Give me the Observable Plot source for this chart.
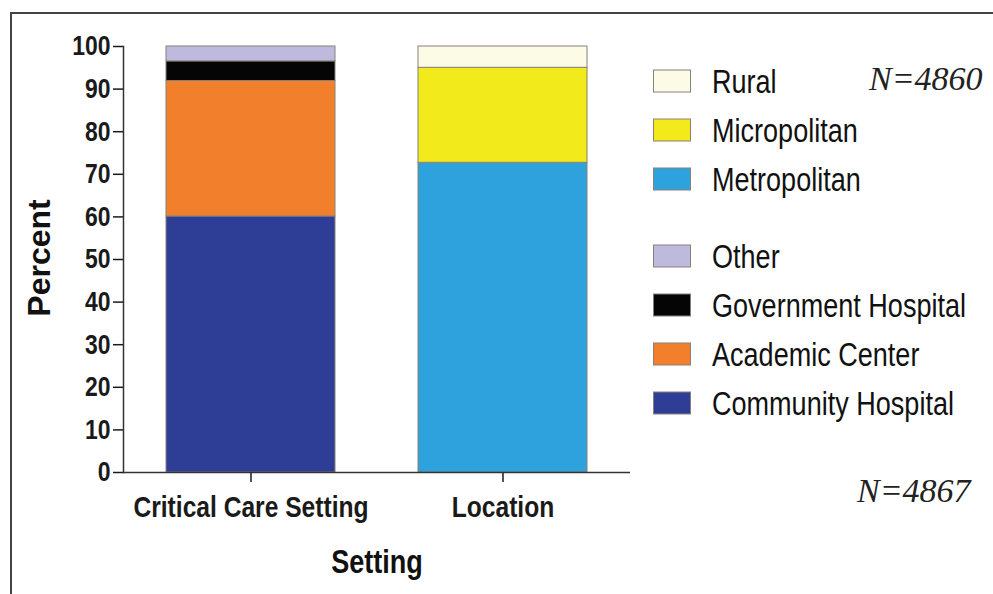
<!DOCTYPE html>
<html><head><meta charset="utf-8">
<script src="https://cdn.jsdelivr.net/npm/d3@7"></script>
<script src="https://cdn.jsdelivr.net/npm/@observablehq/plot@0.6"></script>
<style>
body{margin:0;background:#fff;}
#wrap{position:relative;width:993px;height:594px;overflow:hidden;background:#fff}
#border{position:absolute;left:10px;top:12px;width:1000px;height:600px;border-top:2px solid #444;border-left:2px solid #444;box-sizing:border-box}
#wrap svg{position:absolute;left:0;top:0}
</style></head>
<body><div id="wrap"><div id="border"></div></div>
<script>
const settings = ["Critical Care Setting", "Location"];
const careCategories = ["Community Hospital", "Academic Center", "Government Hospital", "Other"];
const careValues = [60.1, 31.8, 4.6, 3.5];
const careColors = ["#2e3d96", "#f17f2b", "#050505", "#bdbadd"];
const locationCategories = ["Metropolitan", "Micropolitan", "Rural"];
const locationValues = [72.7, 22.3, 5.0];
const locationColors = ["#2ea2dc", "#f2ea1a", "#fcfbe6"];
const yTicks = [0, 10, 20, 30, 40, 50, 60, 70, 80, 90, 100];
const nLocation = "N=4860";
const nCare = "N=4867";

const data = [
  ...careCategories.map((c, i) => ({setting: settings[0], category: c, value: careValues[i]})),
  ...locationCategories.map((c, i) => ({setting: settings[1], category: c, value: locationValues[i]}))
];

const sans = "'Liberation Sans', Arial, sans-serif";
const serif = "'Liberation Serif', 'Times New Roman', serif";
const squeeze = 0.82;

const chart = Plot.plot({
  width: 993, height: 594,
  marginLeft: 123, marginRight: 363, marginTop: 46, marginBottom: 122,
  style: {background: "transparent", fontFamily: sans, color: "#1a1a1a", overflow: "visible"},
  x: {domain: settings, paddingInner: 0.33, paddingOuter: 0.17, align: 0.5, label: null},
  y: {domain: [0, 100], label: null},
  color: {domain: [...careCategories, ...locationCategories], range: [...careColors, ...locationColors]},
  marks: [
    Plot.barY(data, {x: "setting", y: "value", fill: "category",
      order: [...careCategories, ...locationCategories], stroke: "#8a8079", strokeWidth: 1}),
    Plot.axisY({ticks: yTicks, tickSize: 10, tickPadding: 3, fontSize: 28, fontWeight: "bold", label: null, strokeWidth: 1.5, className: "narrow"}),
    Plot.axisX({tickSize: 10, tickPadding: 13, fontSize: 30, fontWeight: "bold", label: null, strokeWidth: 1.5, className: "narrow"}),
    Plot.frame({anchor: "left", stroke: "#333", strokeWidth: 1.5}),
    Plot.ruleY([0], {stroke: "#333", strokeWidth: 1.5})
  ]
});

document.getElementById("wrap").appendChild(chart);
const svg = d3.select(chart);

// axis titles
svg.append("text").attr("transform", "translate(50,258) rotate(-90)")
  .attr("text-anchor", "middle").attr("font-family", sans)
  .attr("font-weight", "bold").attr("font-size", 32).attr("fill", "#111").text("Percent");
svg.append("text").attr("transform", `translate(377,573) scale(${squeeze},1)`)
  .attr("text-anchor", "middle").attr("font-family", sans)
  .attr("font-weight", "bold").attr("font-size", 33).attr("fill", "#111").text("Setting");

// legend
const groups = [
  {names: locationCategories.slice().reverse(), colors: locationColors.slice().reverse(), top: 81},
  {names: careCategories.slice().reverse(), colors: careColors.slice().reverse(), top: 256}
];
groups.forEach(g => {
  g.names.forEach((name, i) => {
    const cy = g.top + i * 49;
    svg.append("rect").attr("x", 653.5).attr("y", cy - 11).attr("width", 37).attr("height", 22)
      .attr("fill", g.colors[i]).attr("stroke", "#8a8079").attr("stroke-width", 1);
    svg.append("text").attr("transform", `translate(712,${cy + 12}) scale(${squeeze},1)`)
      .attr("text-anchor", "start")
      .attr("font-family", sans).attr("font-size", 33).attr("fill", "#111").text(name);
  });
});

// N annotations
svg.append("text").attr("x", 869).attr("y", 90).attr("text-anchor", "start").attr("font-family", serif)
  .attr("font-style", "italic").attr("font-size", 34).attr("fill", "#222").text(nLocation);
svg.append("text").attr("x", 857).attr("y", 502).attr("text-anchor", "start").attr("font-family", serif)
  .attr("font-style", "italic").attr("font-size", 34).attr("fill", "#222").text(nCare);

// emulate a condensed face for the axis tick labels
chart.querySelectorAll("g.narrow text").forEach(t => {
  const w = t.getComputedTextLength();
  if (w > 0) {
    t.setAttribute("textLength", (w * squeeze).toFixed(1));
    t.setAttribute("lengthAdjust", "spacingAndGlyphs");
  }
});
</script>
</body></html>
